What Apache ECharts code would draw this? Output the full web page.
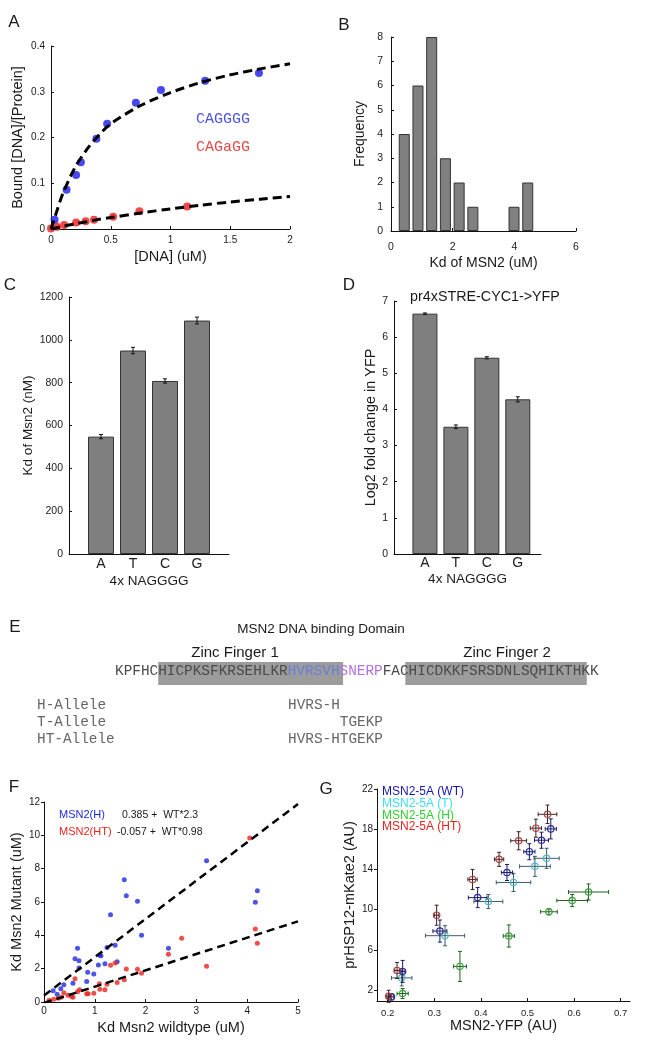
<!DOCTYPE html>
<html>
<head>
<meta charset="utf-8">
<script src="https://cdn.jsdelivr.net/npm/echarts@6/dist/echarts.min.js"></script>
<style>
  html, body { margin: 0; padding: 0; background: #fff; }
  #main { width: 653px; height: 1048px; }
</style>
</head>
<body>
<div id="main"></div>
<script>
// ---- data ----
// A: binding curves
const aBlue = [[0.03, 0.02], [0.13, 0.086], [0.21, 0.118], [0.25, 0.146], [0.38, 0.197], [0.47, 0.23], [0.71, 0.276], [0.92, 0.304], [1.29, 0.324], [1.74, 0.341]]
const aRed = [[0, 0.001], [0.05, 0.005], [0.11, 0.009], [0.21, 0.014], [0.29, 0.017], [0.36, 0.02], [0.52, 0.027], [0.74, 0.039], [1.14, 0.049]]
const aFitX = [0, 0.05, 0.1, 0.2, 0.3, 0.4, 0.5, 0.75, 1, 1.25, 1.5, 1.75, 2]
const aBlueFitY = [0, 0.04, 0.078, 0.134, 0.174, 0.205, 0.23, 0.27, 0.298, 0.32, 0.337, 0.35, 0.361]
const aRedFitY = [0, 0.003, 0.006, 0.011, 0.016, 0.021, 0.025, 0.035, 0.044, 0.052, 0.059, 0.065, 0.071]

// B: histogram of Kd
const bBinCenters = [0.43, 0.875, 1.32, 1.765, 2.21, 2.655, 3.99, 4.435]
const bCounts = [4, 6, 8, 3, 2, 1, 1, 2]

// C / D: NAGGGG variants
const cats = ['A', 'T', 'C', 'G']
const cKd = [548, 950, 808, 1090]
const cErr = [10, 15, 10, 16]
const dFold = [6.65, 3.52, 5.43, 4.28]
const dErr = [0.02, 0.05, 0.03, 0.07]

// E: sequence
const seqParts = [['n', 'KPFHC'], ['n', 'HICPKSFKRSEHLKR'], ['b', 'HVRSVH'], ['p', 'SNERP'], ['n', 'FAC'], ['n', 'HICDKKFSRSDNLSQHIKTHKK']]
const alleleNames = ['H-Allele', 'T-Allele', 'HT-Allele']
const alleleSeqs = ['HVRS-H', '      TGEKP', 'HVRS-HTGEKP']

// F: mutant vs wildtype Kd
const fBlue = [[0.18, 0.67], [0.26, 0.46], [0.33, 0.79], [0.39, 1.03], [0.57, 1.13], [0.61, 2.59], [0.66, 3.23], [0.69, 2.48], [0.69, 2.04],
  [0.84, 1.23], [0.86, 1.78], [0.98, 1.68], [1.07, 2.22], [1.1, 2.81], [1.12, 2.77], [1.2, 2.3], [1.24, 3.27], [1.31, 5.23], [1.4, 3.41],
  [1.44, 2.42], [1.58, 7.33], [1.62, 6.38], [1.84, 6.04], [1.92, 4.0], [2.45, 3.23], [3.2, 8.48], [4.16, 5.98], [4.2, 6.67]]
const fRed = [[0.1, 0.1], [0.19, 0.16], [0.28, 0.22], [0.34, 0.28], [0.39, 0.55], [0.47, 0.4], [0.54, 0.34], [0.57, 0.28], [0.61, 1.39],
  [0.66, 0.61], [0.7, 0.73], [0.84, 0.5], [0.87, 0.5], [0.98, 0.53], [1.09, 1.09], [1.1, 0.77], [1.2, 0.73], [1.24, 1.07], [1.31, 2.2],
  [1.4, 2.34], [1.44, 1.17], [1.58, 1.33], [1.62, 1.98], [1.84, 1.96], [1.92, 1.72], [2.45, 2.87], [2.71, 3.82], [3.2, 2.14],
  [4.05, 9.84], [4.16, 4.38], [4.2, 3.52]]
const fBlueFit = [[0, 0.39], [5, 11.88]]
const fRedFit = [[0, -0.06], [5, 4.84]]

// G: [x, y, xerr, yerr]
const gWT = [[0.55, 18.03, 0.012, 1.0], [0.53, 16.9, 0.015, 0.8], [0.504, 15.76, 0.012, 0.8], [0.456, 13.69, 0.012, 0.8],
  [0.393, 11.19, 0.02, 1.0], [0.312, 7.86, 0.015, 1.1], [0.232, 3.84, 0.005, 1.1], [0.208, 1.31, 0.005, 0.3]]
const gT = [[0.541, 15.1, 0.027, 1.0], [0.516, 14.3, 0.033, 1.0], [0.47, 12.7, 0.037, 0.9], [0.416, 10.8, 0.031, 0.7],
  [0.323, 7.4, 0.042, 1.0], [0.23, 3.2, 0.022, 0.8]]
const gH = [[0.631, 11.75, 0.043, 0.8], [0.596, 10.9, 0.033, 0.6], [0.546, 9.78, 0.018, 0.3], [0.46, 7.37, 0.012, 1.1],
  [0.355, 4.34, 0.014, 1.5], [0.232, 1.64, 0.012, 0.5]]
const gHT = [[0.543, 19.48, 0.02, 0.92], [0.518, 18.1, 0.012, 0.9], [0.481, 16.85, 0.017, 0.9], [0.439, 15.0, 0.01, 0.7],
  [0.382, 13.0, 0.01, 1.0], [0.305, 9.44, 0.005, 1.0], [0.22, 3.94, 0.005, 0.8], [0.202, 1.37, 0.004, 0.6]]
const gTicksX = [0.2, 0.3, 0.4, 0.5, 0.6, 0.7]
const gTicksY = [2, 6, 10, 14, 18, 22]

// ---- helpers ----
const FONT = '"Liberation Sans", Arial, sans-serif'
const MONO = '"Liberation Mono", "Courier New", monospace'
const INK = '#1a1a1a'

const axis = (grid, min, max, interval, o) => Object.assign({
  type: 'value', gridIndex: grid, min: min, max: max, interval: interval,
  nameLocation: 'middle', nameTextStyle: { fontFamily: FONT, fontSize: 14, color: INK },
  axisLine: { lineStyle: { color: '#111', width: 1 } },
  axisTick: { inside: true, length: 3, lineStyle: { color: '#111' } },
  axisLabel: { fontFamily: FONT, fontSize: 10, color: INK, margin: 6 },
  splitLine: { show: false }
}, o || {})

const errBars = (params, api) => {
  const x = api.value(0), y = api.value(1), e = api.value(2)
  const t = api.coord([x, y + e]), b = api.coord([x, y - e])
  const st = { stroke: '#111', lineWidth: 1 }
  return {
    type: 'group', children: [
      { type: 'line', shape: { x1: t[0], y1: t[1], x2: b[0], y2: b[1] }, style: st },
      { type: 'line', shape: { x1: t[0] - 2, y1: t[1], x2: t[0] + 2, y2: t[1] }, style: st },
      { type: 'line', shape: { x1: b[0] - 2, y1: b[1], x2: b[0] + 2, y2: b[1] }, style: st }
    ]
  }
}

const crossPoint = (mark, bar) => (params, api) => {
  const x = api.value(0), y = api.value(1), xe = api.value(2), ye = api.value(3)
  const c = api.coord([x, y])
  const l = api.coord([x - xe, y]), r = api.coord([x + xe, y])
  const t = api.coord([x, y + ye]), b = api.coord([x, y - ye])
  const st = { stroke: bar, lineWidth: 1 }
  return {
    type: 'group', children: [
      { type: 'line', shape: { x1: l[0], y1: c[1], x2: r[0], y2: c[1] }, style: st },
      { type: 'line', shape: { x1: l[0], y1: c[1] - 2, x2: l[0], y2: c[1] + 2 }, style: st },
      { type: 'line', shape: { x1: r[0], y1: c[1] - 2, x2: r[0], y2: c[1] + 2 }, style: st },
      { type: 'line', shape: { x1: c[0], y1: t[1], x2: c[0], y2: b[1] }, style: st },
      { type: 'line', shape: { x1: c[0] - 2, y1: t[1], x2: c[0] + 2, y2: t[1] }, style: st },
      { type: 'line', shape: { x1: c[0] - 2, y1: b[1], x2: c[0] + 2, y2: b[1] }, style: st },
      { type: 'circle', shape: { cx: c[0], cy: c[1], r: 3.2 }, style: { fill: 'none', stroke: mark, lineWidth: 1.2 } }
    ]
  }
}

const txt = (x, y, text, font, fill, align) => ({
  type: 'text', x: x, y: y, silent: true,
  style: { text: text, font: font, fill: fill || INK, align: align || 'left', verticalAlign: 'middle' }
})

// ---- panel E graphics ----
const seqX = 115, seqY = 671, seqSize = 14.4
const charW = seqSize * 0.6
const richSeq = {
  n: { fontFamily: MONO, fontSize: seqSize, fill: '#4a4a4a' },
  b: { fontFamily: MONO, fontSize: seqSize, fill: '#6a7fd6' },
  p: { fontFamily: MONO, fontSize: seqSize, fill: '#b273e0' }
}
const graphics = [
  txt(14, 22, 'A', '17px ' + FONT, INK, 'center'),
  txt(344, 25, 'B', '17px ' + FONT, INK, 'center'),
  txt(10, 285, 'C', '17px ' + FONT, INK, 'center'),
  txt(349, 285, 'D', '17px ' + FONT, INK, 'center'),
  txt(15, 627, 'E', '17px ' + FONT, INK, 'center'),
  txt(14, 787, 'F', '17px ' + FONT, INK, 'center'),
  txt(326, 789, 'G', '17px ' + FONT, INK, 'center'),
  // legends / titles
  txt(196, 119, 'CAGGGG', '15px ' + MONO, '#4a52e4'),
  txt(196, 147, 'CAGaGG', '15px ' + MONO, '#e44848'),
  txt(485, 297, 'pr4xSTRE-CYC1->YFP', '14.3px ' + FONT, INK, 'center'),
  txt(321, 629, 'MSN2 DNA binding Domain', '13.5px ' + FONT, INK, 'center'),
  txt(235, 653, 'Zinc Finger 1', '15px ' + FONT, INK, 'center'),
  txt(507, 653, 'Zinc Finger 2', '15px ' + FONT, INK, 'center'),
  { type: 'rect', silent: true, shape: { x: seqX + 5 * charW, y: 662, width: 21.4 * charW, height: 23 }, style: { fill: '#9c9c9c' } },
  { type: 'rect', silent: true, shape: { x: seqX + 33.6 * charW, y: 662, width: 21 * charW, height: 23 }, style: { fill: '#9c9c9c' } },
  {
    type: 'text', x: seqX, y: seqY, silent: true,
    style: { text: seqParts.map(p => '{' + p[0] + '|' + p[1] + '}').join(''), rich: richSeq, verticalAlign: 'middle' }
  },
  txt(59, 815, 'MSN2(H)', '11px ' + FONT, '#1f2be0'),
  txt(59, 832, 'MSN2(HT)', '11px ' + FONT, '#e8231f'),
  txt(122, 815, '0.385 +  WT*2.3', '10.5px ' + FONT, INK),
  txt(117, 832, '-0.057 +  WT*0.98', '10.5px ' + FONT, INK),
  txt(382, 792, 'MSN2-5A (WT)', '12px ' + FONT, '#1414b8'),
  txt(382, 803.5, 'MSN2-5A (T)', '12px ' + FONT, '#3ee0ee'),
  txt(382, 815.5, 'MSN2-5A (H)', '12px ' + FONT, '#2ed22e'),
  txt(382, 827, 'MSN2-5A (HT)', '12px ' + FONT, '#e42222')
]
alleleNames.forEach((n, i) => {
  graphics.push(txt(37, 705 + i * 17, n, seqSize + 'px ' + MONO, '#666'))
  graphics.push(txt(288, 705 + i * 17, alleleSeqs[i], seqSize + 'px ' + MONO, '#666'))
})

// ---- chart ----
const chart = echarts.init(document.getElementById('main'), null, { renderer: 'canvas' })
chart.setOption({
  backgroundColor: '#fff',
  animation: false,
  textStyle: { fontFamily: FONT },
  grid: [
    { left: 51, top: 46, width: 239, height: 183 },   // A
    { left: 391, top: 37, width: 185, height: 194 },  // B
    { left: 69, top: 297, width: 160, height: 257 },  // C
    { left: 394, top: 301, width: 147, height: 253 }, // D
    { left: 44, top: 802, width: 254, height: 200 },  // F
    { left: 377, top: 789, width: 253, height: 212 }  // G
  ],
  xAxis: [
    axis(0, 0, 2, 0.5, { name: '[DNA] (uM)', nameGap: 20, nameTextStyle: { fontFamily: FONT, fontSize: 14.5, color: INK } }),
    axis(1, 0, 6, 2, { name: 'Kd of MSN2 (uM)', nameGap: 25, axisLabel: { fontFamily: FONT, fontSize: 10.5, color: INK, margin: 11 } }),
    axis(2, 0, 5, 1, {
      name: '4x NAGGGG', nameGap: 20, nameTextStyle: { fontFamily: FONT, fontSize: 13.5, color: INK },
      axisTick: { show: false },
      axisLabel: { fontFamily: FONT, fontSize: 14, color: INK, margin: 3, formatter: v => cats[v - 1] || '' }
    }),
    axis(3, 0, 4.75, 1, {
      name: '4x NAGGGG', nameGap: 18, nameTextStyle: { fontFamily: FONT, fontSize: 13.5, color: INK },
      axisTick: { show: false },
      axisLabel: { fontFamily: FONT, fontSize: 14, color: INK, margin: 2, formatter: v => cats[v - 1] || '' }
    }),
    axis(4, 0, 5, 1, { name: 'Kd Msn2 wildtype (uM)', nameGap: 18, nameTextStyle: { fontFamily: FONT, fontSize: 14.5, color: INK }, axisLabel: { fontFamily: FONT, fontSize: 10, color: INK, margin: 4 } }),
    axis(5, 0.177, 0.72, null, {
      name: 'MSN2-YFP (AU)', nameGap: 17, nameTextStyle: { fontFamily: FONT, fontSize: 14.5, color: INK },
      axisTick: { inside: true, length: 3, customValues: gTicksX, lineStyle: { color: '#111' } },
      axisLabel: { fontFamily: FONT, fontSize: 9.5, color: INK, margin: 7, customValues: gTicksX, formatter: v => v.toFixed(1) }
    })
  ],
  yAxis: [
    axis(0, 0, 0.4, 0.1, { name: 'Bound [DNA]/[Protein]', nameGap: 26, nameTextStyle: { fontFamily: FONT, fontSize: 14.5, color: INK } }),
    axis(1, 0, 8, 1, { name: 'Frequency', nameGap: 24, axisLabel: { fontFamily: FONT, fontSize: 10.5, color: INK, margin: 8 } }),
    axis(2, 0, 1200, 200, {
      name: 'Kd of Msn2 (nM)', nameGap: 30, nameTextStyle: { fontFamily: FONT, fontSize: 13.5, color: INK },
      axisLabel: { fontFamily: FONT, fontSize: 10.5, color: INK, margin: 6, formatter: v => String(v) }
    }),
    axis(3, 0, 7, 1, { name: 'Log2 fold change in YFP', nameGap: 16, nameTextStyle: { fontFamily: FONT, fontSize: 14.4, color: INK }, axisLabel: { fontFamily: FONT, fontSize: 10.5, color: INK, margin: 6 } }),
    axis(4, 0, 12, 2, {
      name: 'Kd Msn2 Mutant (uM)', nameGap: 11, nameTextStyle: { fontFamily: FONT, fontSize: 14.5, color: INK },
      axisTick: { inside: false, length: 3, lineStyle: { color: '#111' } }, axisLabel: { fontFamily: FONT, fontSize: 10, color: INK, margin: 4 }
    }),
    axis(5, 0.9, 22, null, {
      name: 'prHSP12-mKate2 (AU)', nameGap: 14, nameTextStyle: { fontFamily: FONT, fontSize: 14.5, color: INK },
      axisTick: { inside: false, length: 3, customValues: gTicksY, lineStyle: { color: '#111' } },
      axisLabel: { fontFamily: FONT, fontSize: 10, color: INK, margin: 4, customValues: gTicksY }
    })
  ],
  graphic: graphics,
  series: [
    // A
    { type: 'scatter', xAxisIndex: 0, yAxisIndex: 0, data: aBlue, symbolSize: 8, itemStyle: { color: '#1a1aee' } },
    { type: 'scatter', xAxisIndex: 0, yAxisIndex: 0, data: aRed, symbolSize: 8, itemStyle: { color: '#ee1a1a' } },
    { type: 'line', xAxisIndex: 0, yAxisIndex: 0, z: 3, smooth: 0.3, showSymbol: false, data: aFitX.map((x, i) => [x, aBlueFitY[i]]), lineStyle: { color: '#000', width: 3, type: [9, 5] } },
    { type: 'line', xAxisIndex: 0, yAxisIndex: 0, z: 3, smooth: 0.3, showSymbol: false, data: aFitX.map((x, i) => [x, aRedFitY[i]]), lineStyle: { color: '#000', width: 3, type: [9, 5] } },
    // B
    { type: 'bar', xAxisIndex: 1, yAxisIndex: 1, barWidth: 11, data: bBinCenters.map((x, i) => [x, bCounts[i]]), itemStyle: { color: '#808080', borderColor: '#333', borderWidth: 1 } },
    // C
    { type: 'bar', xAxisIndex: 2, yAxisIndex: 2, barWidth: 26, data: cKd.map((v, i) => [i + 1, v]), itemStyle: { color: '#7f7f7f', borderColor: '#333', borderWidth: 1 } },
    { type: 'custom', xAxisIndex: 2, yAxisIndex: 2, z: 5, renderItem: errBars, data: cKd.map((v, i) => [i + 1, v, cErr[i]]), encode: { x: 0, y: 1 } },
    // D
    { type: 'bar', xAxisIndex: 3, yAxisIndex: 3, barWidth: 25, data: dFold.map((v, i) => [i + 1, v]), itemStyle: { color: '#7f7f7f', borderColor: '#333', borderWidth: 1 } },
    { type: 'custom', xAxisIndex: 3, yAxisIndex: 3, z: 5, renderItem: errBars, data: dFold.map((v, i) => [i + 1, v, dErr[i]]), encode: { x: 0, y: 1 } },
    // F
    { type: 'scatter', xAxisIndex: 4, yAxisIndex: 4, data: fBlue, symbolSize: 5, itemStyle: { color: '#1f2be0' } },
    { type: 'scatter', xAxisIndex: 4, yAxisIndex: 4, data: fRed, symbolSize: 5, itemStyle: { color: '#e8231f' } },
    { type: 'line', xAxisIndex: 4, yAxisIndex: 4, z: 3, showSymbol: false, data: fBlueFit, lineStyle: { color: '#000', width: 2.5, type: [8, 5] } },
    { type: 'line', xAxisIndex: 4, yAxisIndex: 4, z: 3, showSymbol: false, data: fRedFit, lineStyle: { color: '#000', width: 2.5, type: [8, 5] } },
    // G
    { type: 'custom', xAxisIndex: 5, yAxisIndex: 5, renderItem: crossPoint('#4fb8c8', '#3a5a6a'), data: gT, encode: { x: 0, y: 1 } },
    { type: 'custom', xAxisIndex: 5, yAxisIndex: 5, renderItem: crossPoint('#3aa03a', '#1f5f1f'), data: gH, encode: { x: 0, y: 1 } },
    { type: 'custom', xAxisIndex: 5, yAxisIndex: 5, renderItem: crossPoint('#2a2a9a', '#1a1a5a'), data: gWT, encode: { x: 0, y: 1 } },
    { type: 'custom', xAxisIndex: 5, yAxisIndex: 5, renderItem: crossPoint('#a84040', '#3a2020'), data: gHT, encode: { x: 0, y: 1 } }
  ]
})
</script>
</body>
</html>
